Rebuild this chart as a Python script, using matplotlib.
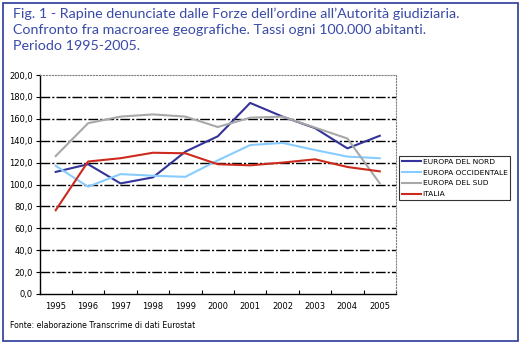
import matplotlib
matplotlib.use("Agg")
import matplotlib.pyplot as plt
from matplotlib.patches import Rectangle
from matplotlib.ticker import FuncFormatter

anni = ["1995", "1996", "1997", "1998", "1999", "2000",
        "2001", "2002", "2003", "2004", "2005"]
nord = [111.5, 118.5, 101.0, 106.5, 130.0, 144.0, 174.5, 162.0, 151.5, 133.0, 144.5]
occidentale = [117.0, 98.0, 109.5, 108.0, 107.0, 122.0, 136.0, 138.0, 131.5, 125.5, 124.0]
sud = [126.0, 156.0, 162.0, 164.0, 162.0, 152.5, 161.0, 162.0, 152.0, 142.0, 101.0]
italia = [76.5, 121.0, 124.0, 129.0, 128.5, 118.5, 117.5, 120.0, 123.0, 116.0, 112.0]

serie = [
    ("EUROPA DEL NORD", nord, "#333399"),
    ("EUROPA OCCIDENTALE", occidentale, "#88ccff"),
    ("EUROPA DEL SUD", sud, "#a8a8a8"),
    ("ITALIA", italia, "#cc2a1c"),
]

titolo = ("Fig. 1 - Rapine denunciate dalle Forze dell\u2019ordine all\u2019Autorit\u00e0 giudiziaria.\n"
          "Confronto fra macroaree geografiche. Tassi ogni 100.000 abitanti.\n"
          "Periodo 1995-2005.")
fonte = "Fonte: elaborazione Transcrime di dati Eurostat"

W, H = 523, 346
fig = plt.figure(figsize=(W / 100, H / 100), dpi=100)
fig.patch.set_facecolor("white")

# blue frame round the whole picture
fig.patches.append(Rectangle((3 / W, 5 / H), 515 / W, 338 / H, transform=fig.transFigure,
                             fill=False, edgecolor="#2a3a9a", linewidth=1.2))

fig.text(13 / W, 1 - 8 / H, titolo, ha="left", va="top", fontsize=10.3,
         color="#3a4aa8", family="Lato", linespacing=1.38)

ax = fig.add_axes([39.5 / W, 1 - 294 / H, 356.5 / W, 219 / H])
x = list(range(len(anni)))
for nome, valori, colore in serie:
    ax.plot(x, valori, color=colore, linewidth=1.5, label=nome)

ax.set_xlim(-0.5, len(anni) - 0.5)
ax.set_ylim(0, 200)
ax.set_yticks(range(0, 201, 20))
ax.yaxis.set_major_formatter(FuncFormatter(lambda v, p: f"{v:.1f}".replace(".", ",")))
for v in range(20, 200, 20):
    ax.axhline(v, color="black", linewidth=1.0, dashes=(7, 1.5, 1.5, 1.5), zorder=0)

ax.set_xticks(x)
ax.set_xticklabels(anni)
ax.set_xticks([i + 0.5 for i in range(-1, len(anni))], minor=True)
ax.tick_params(axis="x", which="major", length=0, pad=6, labelsize=6)
ax.tick_params(axis="x", which="minor", length=3, direction="in", width=0.8)
ax.tick_params(axis="y", length=3, width=0.8, labelsize=6, pad=2)

ax.spines["top"].set_linestyle(":")
ax.spines["top"].set_color("#808080")
ax.spines["right"].set_linestyle(":")
ax.spines["right"].set_color("#808080")
ax.spines["left"].set_linewidth(1.0)
ax.spines["bottom"].set_linewidth(1.0)

leg = ax.legend(loc="upper left", bbox_to_anchor=(399 / W, 1 - 156 / H),
                bbox_transform=fig.transFigure, fontsize=5.4, frameon=True,
                fancybox=False, handlelength=2.6, handletextpad=0.2,
                borderpad=0.35, labelspacing=0.6, borderaxespad=0)
leg.get_frame().set_edgecolor("black")
leg.get_frame().set_linewidth(0.8)

fig.text(10 / W, 1 - 325 / H, fonte, ha="left", va="center", fontsize=5.6, color="black")

fig.savefig("out.png", dpi=100)
